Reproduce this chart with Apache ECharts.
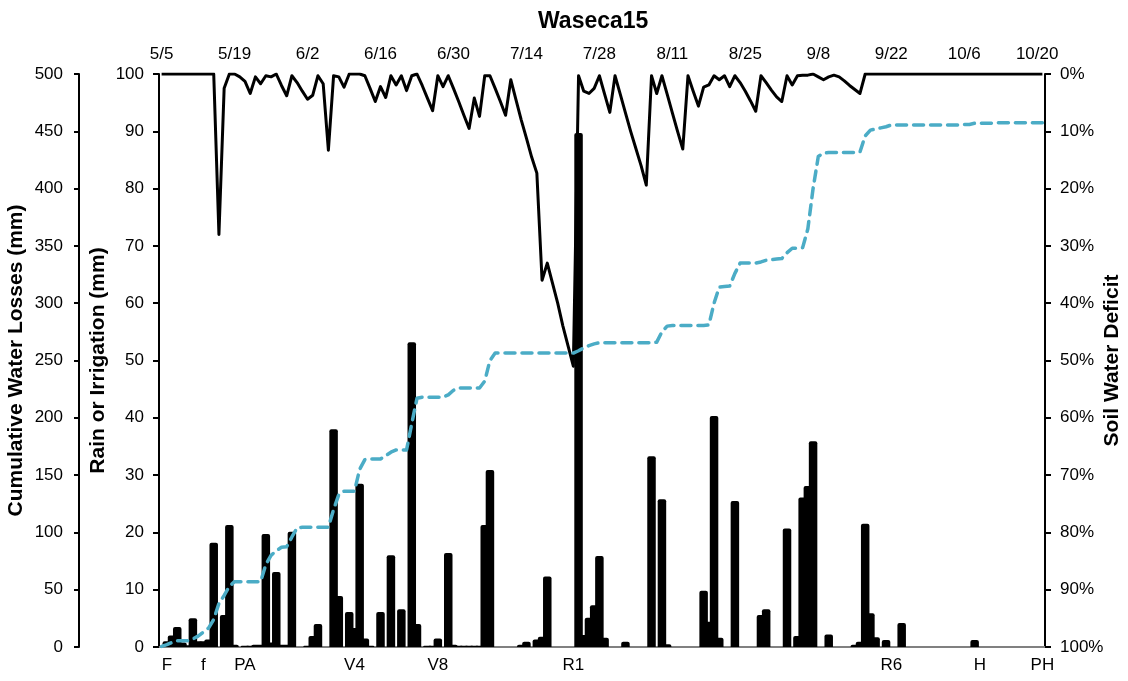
<!DOCTYPE html>
<html>
<head>
<meta charset="utf-8">
<title>Waseca15</title>
<script src="https://cdn.jsdelivr.net/npm/echarts@6/dist/echarts.min.js"></script>
<style>
html, body { margin: 0; padding: 0; background: #fff; }
#chart { width: 1128px; height: 681px; }
</style>
</head>
<body>
<div id="chart"></div>
<script>
// daily categories, 5/5 .. 10/21
var firstDay = new Date(2015, 4, 5);
var dayCount = 170;

// growth stages on the bottom axis (index of the day)
var stageNames = ['F', 'f', 'PA', 'V4', 'V8', 'R1', 'R6', 'H', 'PH'];
var stageDays = [1, 8, 16, 37, 53, 79, 140, 157, 169];

// rain or irrigation, mm per day
var rain = [
  0, 1.0, 2.0, 3.5, 0.8, 0.3, 5.0, 1.0, 1.0, 1.3,
  18.2, 0, 5.6, 21.3, 0.4, 0, 0.2, 0.2, 0.4, 0.4,
  19.7, 0.8, 13.1, 0.4, 0.4, 20.1, 0, 0, 0.2, 1.9,
  4.0, 0, 0, 38.0, 8.9, 0, 6.1, 3.3, 28.5, 1.5,
  0.2, 0, 6.1, 0, 16.0, 0, 6.6, 0, 53.2, 4.0,
  0, 0.2, 0.2, 1.5, 0, 16.4, 0.4, 0.2, 0.2, 0.2,
  0.2, 0.2, 21.3, 30.9, 0, 0, 0, 0, 0, 0.4,
  0.9, 0, 1.3, 1.8, 12.3, 0, 0, 0, 0, 0,
  89.7, 2.1, 5.1, 7.3, 15.9, 1.6, 0, 0, 0, 0.9,
  0, 0, 0, 0, 33.3, 0, 25.8, 0.5, 0, 0,
  0, 0, 0, 0, 9.8, 4.4, 40.3, 1.6, 0, 0,
  25.5, 0, 0, 0, 0, 5.6, 6.6, 0, 0, 0,
  20.7, 0, 1.9, 26.1, 28.1, 35.9, 0, 0, 2.2, 0,
  0, 0, 0, 0.4, 0.9, 21.5, 5.9, 1.7, 0, 1.2,
  0, 0, 4.2, 0, 0, 0, 0, 0, 0, 0,
  0, 0, 0, 0, 0, 0, 1.2, 0, 0, 0,
  0, 0, 0, 0, 0, 0, 0, 0, 0, 0
];

// soil water deficit, %
var deficit = [
  0, 0, 0, 0, 0, 0, 0, 0, 0, 0,
  0, 28, 2.5, 0, 0, 0.5, 1.3, 3.4, 0.5, 1.7,
  0.3, 0.5, 0, 2, 3.8, 0.3, 1.5, 3, 4.4, 3.7,
  0.3, 1.7, 13.3, 0.3, 0.5, 2.3, 0, 0, 0, 0.3,
  2.5, 4.8, 2.2, 4.1, 0.3, 1.9, 0.3, 2.9, 0.3, 0,
  2, 4.2, 6.4, 0.3, 2.2, 0.3, 2.5, 4.8, 7.2, 9.5,
  4.2, 7.4, 0.3, 0.3, 2.5, 4.8, 7.2, 1.0, 4.5, 8,
  11.2, 14.5, 17.3, 36, 33, 36.5, 40, 44, 47.5, 51,
  0.3, 3, 3.4, 2.5, 0.3, 3.5, 6.7, 0.3, 3.5, 6.8,
  10, 13, 16, 19.4, 0.3, 3.4, 0.3, 3.5, 6.8, 10,
  13.1, 0.3, 3, 5.6, 2.3, 1.9, 0.3, 1, 0.3, 2.2,
  0.3, 1.5, 3, 4.7, 6.5, 0.3, 1.5, 2.8, 4, 4.8,
  0.3, 1.9, 0.3, 0.2, 0.2, 0, 0.5, 1.0, 0.5, 0.2,
  0.5, 1.2, 2, 2.7, 3.4, 0, 0, 0, 0, 0,
  0, 0, 0, 0, 0, 0, 0, 0, 0, 0,
  0, 0, 0, 0, 0, 0, 0, 0, 0, 0,
  0, 0, 0, 0, 0, 0, 0, 0, 0, 0
];

// cumulative water losses, mm
var losses = [
  0.5, 2, 4, 5.5, 5.5, 5.5, 7, 9.5, 13, 16.5,
  24, 38, 45, 53, 57, 57, 57, 57, 57, 57,
  72, 80, 84, 87, 87.5, 96, 104, 104.5, 104.5, 104.5,
  104.5, 104.5, 104.5, 120, 133, 136, 136, 136, 155, 163.5,
  164, 164, 164, 167, 170, 172, 172, 172, 195, 217,
  218, 218, 218, 218, 218, 220, 224, 226, 226, 226,
  226, 226, 232, 250, 256.5, 256.5, 256.5, 256.5, 256.5, 256.5,
  256.5, 256.5, 256.5, 256.5, 256.5, 256.5, 256.5, 256.5, 256.5, 256.5,
  258.5, 261, 263, 264.5, 265.5, 265.5, 265.5, 265.5, 265.5, 265.5,
  265.5, 265.5, 265.5, 265.5, 265.5, 266, 275, 280, 280.5, 280.5,
  280.5, 280.5, 280.5, 280.5, 280.5, 281, 300, 314, 314.5, 315,
  326, 335, 335, 335, 335, 336, 337.5, 338, 338.5, 339,
  344, 348, 348, 348.5, 365, 400, 428, 431, 431.5, 431.5,
  431.5, 431.5, 431.5, 431.5, 432, 446, 451, 452, 453, 454,
  455.5, 455.5, 455.5, 455.5, 455.5, 455.5, 455.5, 455.5, 455.5, 455.5,
  455.5, 455.5, 455.5, 455.5, 456, 456, 457, 457, 457, 457,
  457.5, 457.5, 457.5, 457.5, 457.5, 457.5, 457.5, 457.5, 457.5, 457.5
];

var dates = [];
var stages = [];
for (var i = 0; i < dayCount; i++) {
    var d = new Date(firstDay.getTime() + i * 86400000);
    dates.push((d.getMonth() + 1) + '/' + d.getDate());
    var k = stageDays.indexOf(i);
    stages.push(k >= 0 ? stageNames[k] : '');
}

var fontName = '"Liberation Sans", Arial, sans-serif';
var myChart = echarts.init(document.getElementById('chart'));

var option = {
    animation: false,
    backgroundColor: '#fff',
    textStyle: { fontFamily: fontName },
    title: {
        text: 'Waseca15',
        left: 533,
        top: 5,
        textStyle: { fontSize: 23, fontWeight: 'bold', color: '#000', fontFamily: fontName }
    },
    grid: { left: 159, right: 83, top: 74, bottom: 34, outerBoundsMode: 'none', containLabel: false },
    xAxis: [{
        type: 'category',
        position: 'top',
        data: dates,
        boundaryGap: true,
        axisLine: { lineStyle: { color: '#595959', width: 2 } },
        axisTick: { show: false },
        axisLabel: { interval: 13, fontSize: 17, color: '#000', margin: 11, fontFamily: fontName },
        splitLine: { show: false }
    }, {
        type: 'category',
        position: 'bottom',
        data: stages,
        boundaryGap: true,
        axisLine: { lineStyle: { color: '#808080', width: 2 } },
        axisTick: { show: false },
        axisLabel: { interval: 0, fontSize: 17, color: '#000', margin: 10, fontFamily: fontName },
        splitLine: { show: false }
    }],
    yAxis: [{
        type: 'value',
        position: 'left',
        min: 0, max: 100, interval: 10,
        name: 'Rain or Irrigation (mm)',
        nameLocation: 'middle',
        nameGap: 50,
        nameMoveOverlap: false,
        nameTextStyle: { fontSize: 21, fontWeight: 'bold', color: '#000', fontFamily: fontName },
        axisLine: { show: true, lineStyle: { color: '#000', width: 2 } },
        axisTick: { show: true, length: 6, lineStyle: { color: '#000', width: 2 } },
        axisLabel: { fontSize: 17, color: '#000', margin: 15, fontFamily: fontName },
        splitLine: { show: false }
    }, {
        type: 'value',
        position: 'left',
        offset: 80,
        min: 0, max: 500, interval: 50,
        name: 'Cumulative Water Losses (mm)',
        nameLocation: 'middle',
        nameGap: 52,
        nameMoveOverlap: false,
        nameTextStyle: { fontSize: 21, fontWeight: 'bold', color: '#000', fontFamily: fontName },
        axisLine: { show: true, lineStyle: { color: '#000', width: 2 } },
        axisTick: { show: true, length: 5, lineStyle: { color: '#000', width: 2 } },
        axisLabel: { fontSize: 17, color: '#000', margin: 16, fontFamily: fontName },
        splitLine: { show: false }
    }, {
        type: 'value',
        position: 'right',
        inverse: true,
        min: 0, max: 100, interval: 10,
        name: 'Soil Water Deficit',
        nameLocation: 'middle',
        nameGap: 57,
        nameMoveOverlap: false,
        nameTextStyle: { fontSize: 21, fontWeight: 'bold', color: '#000', fontFamily: fontName },
        axisLine: { show: true, lineStyle: { color: '#000', width: 2 } },
        axisTick: { show: true, length: 6, lineStyle: { color: '#000', width: 2 } },
        axisLabel: { fontSize: 17, color: '#000', margin: 15, formatter: '{value}%', fontFamily: fontName },
        splitLine: { show: false }
    }],
    series: [{
        name: 'Rain or Irrigation',
        type: 'bar',
        xAxisIndex: 0,
        yAxisIndex: 0,
        data: rain,
        barWidth: 8.5,
        itemStyle: { color: '#000', borderRadius: [2, 2, 0, 0] },
        z: 2
    }, {
        name: 'Soil Water Deficit',
        type: 'line',
        xAxisIndex: 0,
        yAxisIndex: 2,
        data: deficit,
        symbol: 'none',
        lineStyle: { color: '#000', width: 3, join: 'round' },
        z: 3
    }, {
        name: 'Cumulative Water Losses',
        type: 'line',
        xAxisIndex: 0,
        yAxisIndex: 1,
        data: losses,
        symbol: 'none',
        lineStyle: { color: '#4BACC6', width: 3.5, type: [10, 7], cap: 'round', join: 'round' },
        z: 4
    }]
};
myChart.setOption(option);

window.onresize = function () {
    myChart.resize();
};
</script>
</body>
</html>
